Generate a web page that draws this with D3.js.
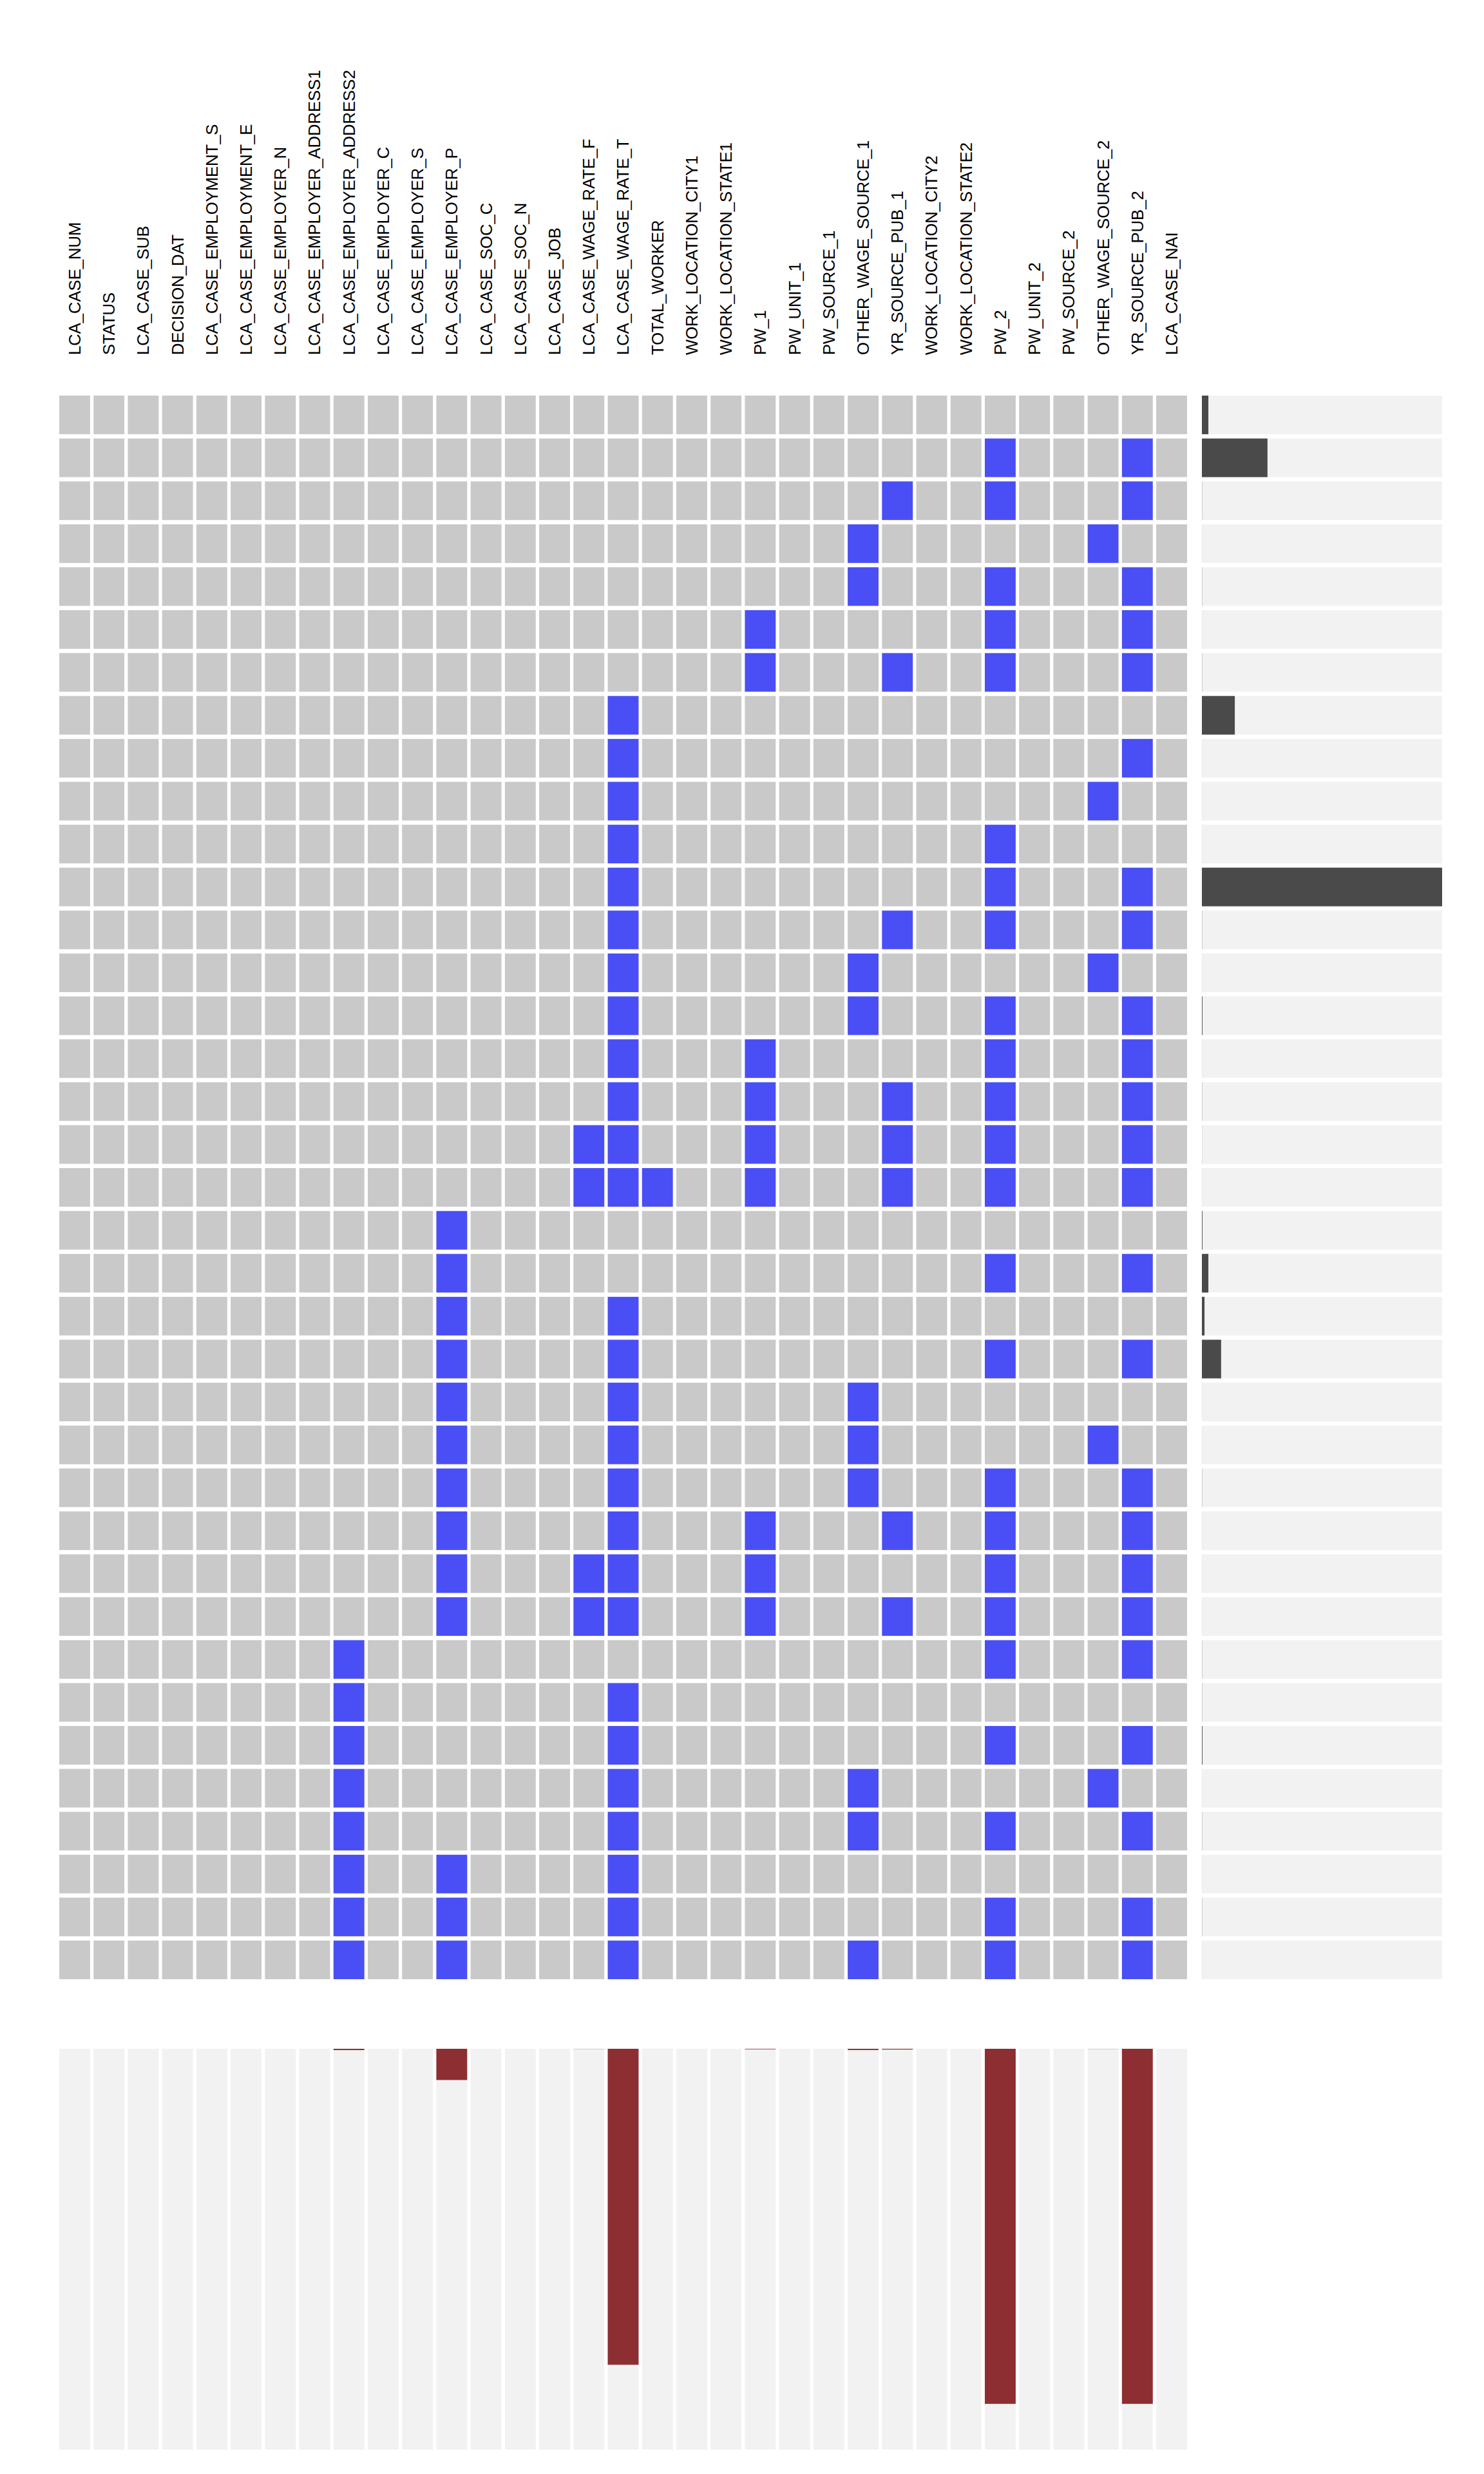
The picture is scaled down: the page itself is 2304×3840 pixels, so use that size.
<!DOCTYPE html>
<html>
<head>
<meta charset="utf-8">
<script src="https://cdn.jsdelivr.net/npm/d3@7"></script>
<style>
  html, body { margin: 0; padding: 0; background: #ffffff; }
  svg { display: block; }
</style>
</head>
<body>
<svg id="chart" width="2304" height="3840"></svg>
<script>
// ---------------- DATA ----------------
const variables = [
  "LCA_CASE_NUM", "STATUS", "LCA_CASE_SUB", "DECISION_DAT",
  "LCA_CASE_EMPLOYMENT_S", "LCA_CASE_EMPLOYMENT_E", "LCA_CASE_EMPLOYER_N",
  "LCA_CASE_EMPLOYER_ADDRESS1", "LCA_CASE_EMPLOYER_ADDRESS2", "LCA_CASE_EMPLOYER_C",
  "LCA_CASE_EMPLOYER_S", "LCA_CASE_EMPLOYER_P", "LCA_CASE_SOC_C", "LCA_CASE_SOC_N",
  "LCA_CASE_JOB", "LCA_CASE_WAGE_RATE_F", "LCA_CASE_WAGE_RATE_T", "TOTAL_WORKER",
  "WORK_LOCATION_CITY1", "WORK_LOCATION_STATE1", "PW_1", "PW_UNIT_1", "PW_SOURCE_1",
  "OTHER_WAGE_SOURCE_1", "YR_SOURCE_PUB_1", "WORK_LOCATION_CITY2", "WORK_LOCATION_STATE2",
  "PW_2", "PW_UNIT_2", "PW_SOURCE_2", "OTHER_WAGE_SOURCE_2", "YR_SOURCE_PUB_2", "LCA_CASE_NAI"
];

// Missing variables in each pattern (row), top to bottom
const patternMissing = [
  [],
  ["PW_2", "YR_SOURCE_PUB_2"],
  ["YR_SOURCE_PUB_1", "PW_2", "YR_SOURCE_PUB_2"],
  ["OTHER_WAGE_SOURCE_1", "OTHER_WAGE_SOURCE_2"],
  ["OTHER_WAGE_SOURCE_1", "PW_2", "YR_SOURCE_PUB_2"],
  ["PW_1", "PW_2", "YR_SOURCE_PUB_2"],
  ["PW_1", "YR_SOURCE_PUB_1", "PW_2", "YR_SOURCE_PUB_2"],
  ["LCA_CASE_WAGE_RATE_T"],
  ["LCA_CASE_WAGE_RATE_T", "YR_SOURCE_PUB_2"],
  ["LCA_CASE_WAGE_RATE_T", "OTHER_WAGE_SOURCE_2"],
  ["LCA_CASE_WAGE_RATE_T", "PW_2"],
  ["LCA_CASE_WAGE_RATE_T", "PW_2", "YR_SOURCE_PUB_2"],
  ["LCA_CASE_WAGE_RATE_T", "YR_SOURCE_PUB_1", "PW_2", "YR_SOURCE_PUB_2"],
  ["LCA_CASE_WAGE_RATE_T", "OTHER_WAGE_SOURCE_1", "OTHER_WAGE_SOURCE_2"],
  ["LCA_CASE_WAGE_RATE_T", "OTHER_WAGE_SOURCE_1", "PW_2", "YR_SOURCE_PUB_2"],
  ["LCA_CASE_WAGE_RATE_T", "PW_1", "PW_2", "YR_SOURCE_PUB_2"],
  ["LCA_CASE_WAGE_RATE_T", "PW_1", "YR_SOURCE_PUB_1", "PW_2", "YR_SOURCE_PUB_2"],
  ["LCA_CASE_WAGE_RATE_F", "LCA_CASE_WAGE_RATE_T", "PW_1", "YR_SOURCE_PUB_1", "PW_2", "YR_SOURCE_PUB_2"],
  ["LCA_CASE_WAGE_RATE_F", "LCA_CASE_WAGE_RATE_T", "TOTAL_WORKER", "PW_1", "YR_SOURCE_PUB_1", "PW_2", "YR_SOURCE_PUB_2"],
  ["LCA_CASE_EMPLOYER_P"],
  ["LCA_CASE_EMPLOYER_P", "PW_2", "YR_SOURCE_PUB_2"],
  ["LCA_CASE_EMPLOYER_P", "LCA_CASE_WAGE_RATE_T"],
  ["LCA_CASE_EMPLOYER_P", "LCA_CASE_WAGE_RATE_T", "PW_2", "YR_SOURCE_PUB_2"],
  ["LCA_CASE_EMPLOYER_P", "LCA_CASE_WAGE_RATE_T", "OTHER_WAGE_SOURCE_1"],
  ["LCA_CASE_EMPLOYER_P", "LCA_CASE_WAGE_RATE_T", "OTHER_WAGE_SOURCE_1", "OTHER_WAGE_SOURCE_2"],
  ["LCA_CASE_EMPLOYER_P", "LCA_CASE_WAGE_RATE_T", "OTHER_WAGE_SOURCE_1", "PW_2", "YR_SOURCE_PUB_2"],
  ["LCA_CASE_EMPLOYER_P", "LCA_CASE_WAGE_RATE_T", "PW_1", "YR_SOURCE_PUB_1", "PW_2", "YR_SOURCE_PUB_2"],
  ["LCA_CASE_EMPLOYER_P", "LCA_CASE_WAGE_RATE_F", "LCA_CASE_WAGE_RATE_T", "PW_1", "PW_2", "YR_SOURCE_PUB_2"],
  ["LCA_CASE_EMPLOYER_P", "LCA_CASE_WAGE_RATE_F", "LCA_CASE_WAGE_RATE_T", "PW_1", "YR_SOURCE_PUB_1", "PW_2", "YR_SOURCE_PUB_2"],
  ["LCA_CASE_EMPLOYER_ADDRESS2", "PW_2", "YR_SOURCE_PUB_2"],
  ["LCA_CASE_EMPLOYER_ADDRESS2", "LCA_CASE_WAGE_RATE_T"],
  ["LCA_CASE_EMPLOYER_ADDRESS2", "LCA_CASE_WAGE_RATE_T", "PW_2", "YR_SOURCE_PUB_2"],
  ["LCA_CASE_EMPLOYER_ADDRESS2", "LCA_CASE_WAGE_RATE_T", "OTHER_WAGE_SOURCE_1", "OTHER_WAGE_SOURCE_2"],
  ["LCA_CASE_EMPLOYER_ADDRESS2", "LCA_CASE_WAGE_RATE_T", "OTHER_WAGE_SOURCE_1", "PW_2", "YR_SOURCE_PUB_2"],
  ["LCA_CASE_EMPLOYER_ADDRESS2", "LCA_CASE_EMPLOYER_P", "LCA_CASE_WAGE_RATE_T"],
  ["LCA_CASE_EMPLOYER_ADDRESS2", "LCA_CASE_EMPLOYER_P", "LCA_CASE_WAGE_RATE_T", "PW_2", "YR_SOURCE_PUB_2"],
  ["LCA_CASE_EMPLOYER_ADDRESS2", "LCA_CASE_EMPLOYER_P", "LCA_CASE_WAGE_RATE_T", "OTHER_WAGE_SOURCE_1", "PW_2", "YR_SOURCE_PUB_2"]
];

// Frequency of each pattern (right-hand bars)
const patternCounts = [
  270, 2730, 6, 1, 6, 1, 6, 1370, 1, 1, 1, 10000, 6, 1, 25, 1, 6, 3, 1,
  25, 270, 110, 800, 1, 1, 6, 1, 1, 1, 6, 6, 25, 1, 6, 1, 6, 1
];

// Number of missing values per variable (bottom bars)
const columnMissing = [
  0, 0, 0, 0, 0, 0, 0, 0, 52, 0, 0, 1224, 0, 0, 0, 6, 12383, 1,
  0, 0, 21, 0, 0, 49, 30, 0, 0, 13915, 0, 0, 5, 13915, 0
];

const totalRecords = 15704;

// ---------------- STYLE ----------------
const COLORS = {
  present: "#c9c9c9",
  missing: "#4a4ff5",
  freqBar: "#4a4a4a",
  colBar: "#8d2f32",
  panel: "#f2f2f2",
  text: "#000000"
};

// ---------------- DRAW ----------------
const svg = d3.select("#chart");

const x = d3.scaleBand()
  .domain(variables)
  .range([92, 1843])
  .paddingInner(0.1)
  .paddingOuter(0);

const rows = d3.range(patternMissing.length);
const y = d3.scaleBand()
  .domain(rows)
  .range([614, 3072])
  .paddingInner(0.1)
  .paddingOuter(0);

const freqX = d3.scaleLinear()
  .domain([0, d3.max(patternCounts)])
  .range([1866, 2239]);

const colY = d3.scaleLinear()
  .domain([0, totalRecords])
  .range([3180, 3802]);

// Column labels
svg.append("g")
  .selectAll("text")
  .data(variables)
  .join("text")
  .attr("transform", d => `translate(${x(d) + x.bandwidth() / 2},551) rotate(-90)`)
  .attr("dy", "0.35em")
  .attr("text-anchor", "start")
  .attr("font-family", "'Liberation Sans', Arial, Helvetica, sans-serif")
  .attr("font-size", 25.6)
  .attr("fill", COLORS.text)
  .text(d => d);

// Pattern matrix
const cells = [];
patternMissing.forEach((miss, r) => {
  const set = new Set(miss);
  variables.forEach(v => cells.push({ r, v, missing: set.has(v) }));
});

svg.append("g")
  .selectAll("rect")
  .data(cells)
  .join("rect")
  .attr("x", d => x(d.v))
  .attr("y", d => y(d.r))
  .attr("width", x.bandwidth())
  .attr("height", y.bandwidth())
  .attr("fill", d => d.missing ? COLORS.missing : COLORS.present);

// Right panel: pattern frequencies
const right = svg.append("g");
right.selectAll("rect.bg")
  .data(rows)
  .join("rect")
  .attr("class", "bg")
  .attr("x", freqX.range()[0])
  .attr("y", r => y(r))
  .attr("width", freqX.range()[1] - freqX.range()[0])
  .attr("height", y.bandwidth())
  .attr("fill", COLORS.panel);
right.selectAll("rect.bar")
  .data(rows)
  .join("rect")
  .attr("class", "bar")
  .attr("x", freqX(0))
  .attr("y", r => y(r))
  .attr("width", r => freqX(patternCounts[r]) - freqX(0))
  .attr("height", y.bandwidth())
  .attr("fill", COLORS.freqBar);

// Bottom panel: missing count per variable
const bottom = svg.append("g");
bottom.selectAll("rect.bg")
  .data(variables)
  .join("rect")
  .attr("class", "bg")
  .attr("x", d => x(d))
  .attr("y", colY.range()[0])
  .attr("width", x.bandwidth())
  .attr("height", colY.range()[1] - colY.range()[0])
  .attr("fill", COLORS.panel);
bottom.selectAll("rect.bar")
  .data(variables)
  .join("rect")
  .attr("class", "bar")
  .attr("x", d => x(d))
  .attr("y", colY(0))
  .attr("width", x.bandwidth())
  .attr("height", (d, i) => colY(columnMissing[i]) - colY(0))
  .attr("fill", COLORS.colBar);
</script>
</body>
</html>
